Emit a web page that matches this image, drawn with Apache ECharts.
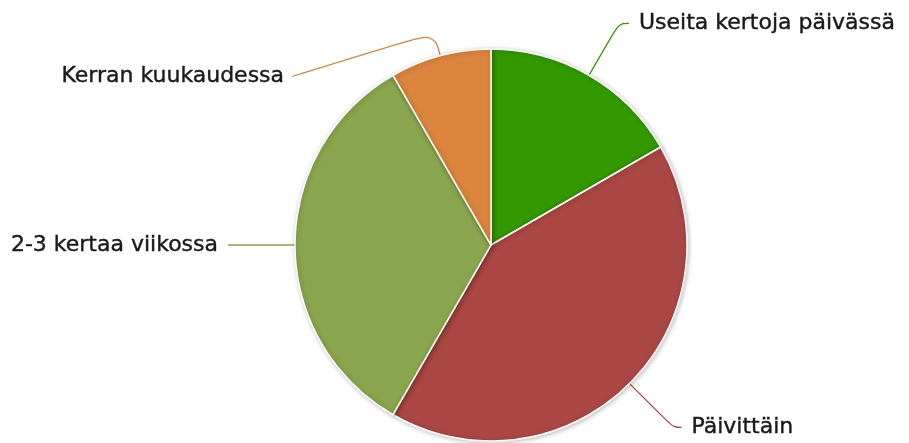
<!DOCTYPE html>
<html>
<head>
<meta charset="utf-8">
<script src="https://cdn.jsdelivr.net/npm/echarts@6/dist/echarts.min.js"></script>
<style>
  html, body { margin: 0; padding: 0; background: #fff; }
  #chart { width: 909px; height: 443px; }
</style>
</head>
<body>
<div id="chart"></div>
<script>
// How often: share of answers per frequency
const categories = ['Useita kertoja päivässä', 'Päivittäin', '2-3 kertaa viikossa', 'Kerran kuukaudessa'];
const values = [2, 5, 4, 1];
const colors = ['#339900', '#aa4643', '#89a54e', '#db843d'];
// connector line lengths per slice [radial, horizontal]
const lineLengths = [[60, 10], [62, 8], [40, 27], [24, 10]];

const chart = echarts.init(document.getElementById('chart'), null, { renderer: 'canvas' });

const data = categories.map((name, i) => ({
  name,
  value: values[i],
  itemStyle: { color: colors[i] },
  labelLine: {
    length: lineLengths[i][0],
    length2: lineLengths[i][1],
    lineStyle: { color: colors[i], width: 1.3 }
  }
}));

chart.setOption({
  animation: false,
  series: [{
    type: 'pie',
    center: [491, 245],
    radius: 196,
    startAngle: 90,
    clockwise: true,
    avoidLabelOverlap: false,
    data,
    itemStyle: {
      borderColor: '#ffffff',
      borderWidth: 1.5,
      shadowBlur: 5,
      shadowOffsetX: 1,
      shadowOffsetY: 1,
      shadowColor: 'rgba(0,0,0,0.25)'
    },
    label: {
      show: true,
      formatter: '{b}',
      fontFamily: 'DejaVu Sans',
      fontSize: 22,
      color: '#1a1a1a',
      textBorderColor: '#1a1a1a',
      textBorderWidth: 0.4,
      distanceToLabelLine: 10
    },
    labelLine: { show: true, smooth: 0.4 },
    // the small top-left slice: drop its label below the pie rim
    labelLayout: function (params) {
      if (params.dataIndex !== 3) return {};
      const p = params.labelLinePoints;
      const end = [p[1][0] - 142, p[1][1] + 44];
      return {
        x: end[0] - 8,
        y: end[1],
        align: 'right',
        verticalAlign: 'middle',
        labelLinePoints: [p[0], p[1], end]
      };
    },
    emphasis: { disabled: true }
  }]
});
</script>
</body>
</html>
